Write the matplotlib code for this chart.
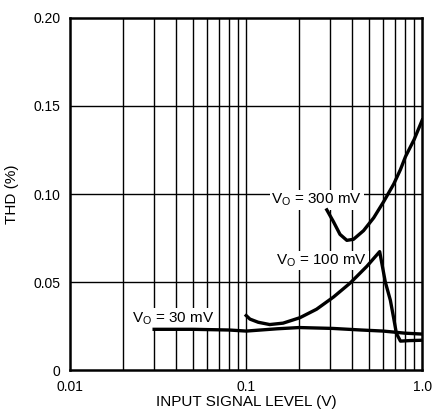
import numpy as np
import matplotlib
matplotlib.use("Agg")
import matplotlib.pyplot as plt

plt.rcParams['font.family'] = ['Liberation Sans', 'DejaVu Sans']

# curve points (input level V, THD %)
vo30_x = [0.03, 0.05, 0.08, 0.1, 0.15, 0.2, 0.31, 0.45, 0.6, 0.8, 1.0]
vo30_y = [0.0232, 0.0232, 0.0228, 0.0222, 0.0235, 0.0242, 0.0237, 0.0228, 0.0222, 0.021, 0.0205]

vo100_x = [0.1, 0.105, 0.117, 0.136, 0.162, 0.202, 0.251, 0.313, 0.39, 0.485, 0.573,
           0.617, 0.659, 0.689, 0.713, 0.752, 0.85, 1.0]
vo100_y = [0.0310, 0.0290, 0.0272, 0.0259, 0.0267, 0.0298, 0.0346, 0.0415, 0.0495, 0.059, 0.0673,
           0.050, 0.0397, 0.0293, 0.0209, 0.0165, 0.0168, 0.017]

vo300_x = [0.287, 0.313, 0.341, 0.373, 0.407, 0.464, 0.530, 0.604, 0.689, 0.752, 0.803, 0.9, 1.0]
vo300_y = [0.091, 0.0843, 0.0771, 0.0737, 0.0743, 0.0792, 0.0865, 0.0957, 0.1057, 0.1139, 0.1212,
           0.131, 0.142]

y_ticks = [0, 0.05, 0.10, 0.15, 0.20]
y_labels = ["0", "0.05", "0.10", "0.15", "0.20"]
x_ticks = [0.01, 0.1, 1.0]
x_labels = ["0.01", "0.1", "1.0"]

fig = plt.figure(figsize=(4.44, 4.15), dpi=100)
ax = fig.add_axes([0.158, 0.108, 0.793, 0.849])

ax.set_xscale("log")
ax.set_xlim(0.01, 1.0)
ax.set_ylim(0, 0.20)

# grid: every minor decade line vertically, 0.05 steps horizontally
for d in [0.01, 0.1]:
    for m in range(2, 10):
        ax.axvline(d * m, color="black", lw=1.0, zorder=1)
ax.axvline(0.1, color="black", lw=1.0, zorder=1)
for yv in [0.05, 0.10, 0.15]:
    ax.axhline(yv, color="black", lw=1.0, zorder=1)

ax.plot(vo30_x, vo30_y, color="black", lw=2.4, zorder=3)
ax.plot(vo100_x, vo100_y, color="black", lw=2.4, zorder=3, solid_joinstyle="round")
ax.plot(vo300_x, vo300_y, color="black", lw=2.4, zorder=3, solid_joinstyle="round")

# labels blank out the grid behind them but sit under the curves
lbl_box = dict(facecolor="white", edgecolor="none", pad=1)
ax.text(0.139, 0.0967, r"V$_{\mathregular{O}}$ = 300 mV", fontsize=11, va="center",
        zorder=2, bbox=lbl_box)
ax.text(0.148, 0.0624, r"V$_{\mathregular{O}}$ = 100 mV", fontsize=11, va="center",
        zorder=2, bbox=lbl_box)
ax.text(0.0224, 0.0295, r"V$_{\mathregular{O}}$ = 30 mV", fontsize=11, va="center",
        zorder=2, bbox=lbl_box)

ax.set_yticks(y_ticks)
ax.set_yticklabels(y_labels, fontsize=10)
ax.set_xticks(x_ticks)
ax.set_xticklabels(x_labels, fontsize=10)
ax.minorticks_off()
ax.tick_params(length=0)
ax.tick_params(axis="y", pad=7)
ax.tick_params(axis="x", pad=7)

for s in ax.spines.values():
    s.set_linewidth(1.8)

ax.set_xlabel("INPUT SIGNAL LEVEL (V)", fontsize=11, labelpad=1)
ax.set_ylabel("THD (%)", fontsize=11, labelpad=10)

fig.savefig("out.png", dpi=100)
